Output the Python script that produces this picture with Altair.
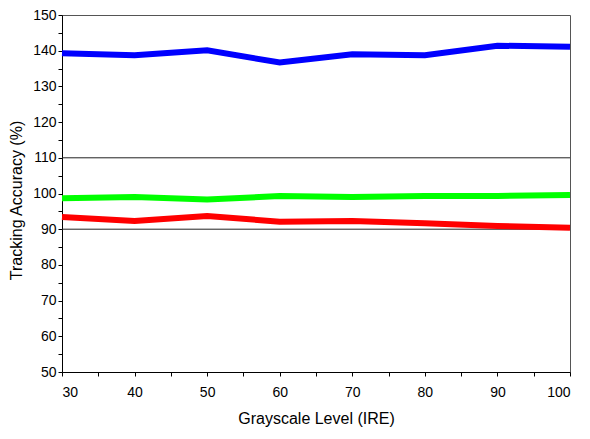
import altair as alt
import pandas as pd

levels = [30, 40, 50, 60, 70, 80, 90, 100]
blue_vals = [139.3, 138.7, 140.1, 136.7, 139.0, 138.7, 141.4, 141.1]
green_vals = [98.7, 99.0, 98.3, 99.3, 99.0, 99.3, 99.3, 99.6]
red_vals = [93.4, 92.3, 93.7, 92.1, 92.3, 91.7, 90.9, 90.4]
series_names = ["Blue", "Green", "Red"]
series_colors = ["#0000FF", "#00FF00", "#FF0000"]
ref_lines = [90, 110]
y_ticks = list(range(50, 151, 5))
x_ticks = list(range(30, 101, 5))

rows = []
for name, vals in zip(series_names, [blue_vals, green_vals, red_vals]):
    for lv, v in zip(levels, vals):
        rows.append({"level": lv, "value": v, "series": name})
df = pd.DataFrame(rows)

font = "Liberation Sans"
y_scale = alt.Scale(domain=[50, 150], nice=False, zero=False)

x_enc = alt.X(
    "level:Q",
    scale=alt.Scale(domain=[30, 100], nice=False),
    axis=alt.Axis(
        title="Grayscale Level (IRE)",
        values=x_ticks,
        labelExpr="datum.value % 10 == 0 ? datum.label : ''",
        labelOverlap=False,
        grid=False,
        domainColor="black",
        tickColor="black",
        tickSize=4,
        labelPadding=9,
        labelFontSize=14,
        labelColor="black",
        labelFont=font,
        titleFont=font,
        titleFontSize=16,
        titleFontWeight="normal",
        titleColor="black",
        titleBaseline="middle",
        titleY=46,
    ),
)
y_axis = alt.Axis(
    title="Tracking Accuracy (%)",
    values=y_ticks,
    labelExpr="datum.value % 10 == 0 ? datum.label : ''",
    labelOverlap=False,
    grid=False,
    domainColor="black",
    tickColor="black",
    tickSize=4,
    labelPadding=2,
    labelFontSize=14,
    labelColor="black",
    labelFont=font,
    titleFont=font,
    titleFontSize=16,
    titleFontWeight="normal",
    titleColor="black",
    titleAngle=270,
    titleBaseline="middle",
    titleAlign="center",
    titleX=-46,
    titleY=185,
)

lines = alt.Chart(df).mark_line(strokeWidth=6).encode(
    x=x_enc,
    y=alt.Y("value:Q", scale=y_scale, axis=y_axis),
    color=alt.Color(
        "series:N",
        scale=alt.Scale(domain=series_names, range=series_colors),
        legend=None,
    ),
    detail="series:N",
)

rules = alt.Chart(pd.DataFrame({"value": ref_lines})).mark_rule(
    color="#222222", strokeWidth=1
).encode(y=alt.Y("value:Q", scale=y_scale, axis=y_axis))

chart = (
    alt.layer(rules, lines)
    .properties(
        width=508,
        height=357,
        autosize=alt.AutoSizeParams(type="none"),
        padding={"left": 54, "top": 7, "right": 12, "bottom": 56},
    )
    .configure_view(stroke="#555555", strokeWidth=1)
)

chart.save("out.html", embed_options={"renderer": "svg", "actions": False})
